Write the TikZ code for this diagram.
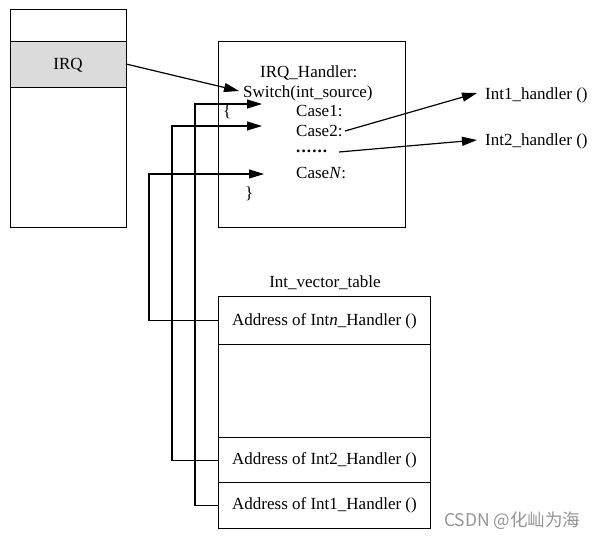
\documentclass[tikz,border=0pt]{standalone}
\usepackage{fontspec}
\setmainfont{Liberation Serif}
\newfontfamily\cjk{Noto Sans CJK SC}
\usetikzlibrary{arrows.meta,positioning}

\tikzstyle{box} = [draw, line width=1.2pt, inner sep=0pt, anchor=north west]
\tikzstyle{code} = [inner sep=0pt, anchor=base west, font=\fontsize{17}{20}\selectfont]
\tikzstyle{label} = [inner sep=0pt, anchor=base, font=\fontsize{17}{20}\selectfont]
\tikzstyle{wire} = [draw, line width=1.2pt, -]
\tikzstyle{pointer} = [draw, line width=1.2pt, -{Triangle[length=15pt,width=9pt]}]

\def\dotrow{\textbf{.\kern1.1pt.\kern1.1pt.\kern1.1pt.\kern1.1pt.\kern1.1pt.}}
\def\caseLines{{(260,77.7)/hname/IRQ\_Handler:}, {(243,98)/switch/Switch(int\_source)}, {(223,117)/lbrace/\{}, {(296,117)/case1/Case1:}, {(296,136.7)/case2/Case2:}, {(296,153)/dots/\dotrow}, {(296,179)/caseN/Case\textit{N}:}, {(245,199)/rbrace/\}}}
\def\targets{{(485,100)/int1/Int1\_handler ()}, {(485,146)/int2/Int2\_handler ()}}
\def\entries{vec1/23/{(262,104)}, vec2/46/{(262,126)}, vecn/69/{(264,174)}}

\begin{document}
\begin{tikzpicture}[x=1pt,y=-1pt]
  \useasboundingbox (0,0) rectangle (596,537);

  % stack
  \node[box, minimum width=116pt, minimum height=32pt] (stacktop) at (10,9) {};
  \node[box, minimum width=116pt, minimum height=46pt, fill=black!14] (irq) at (10,41) {};
  \node[box, minimum width=116pt, minimum height=140pt] (stackbot) at (10,87) {};
  \node[label] at (68,70) {IRQ};

  % handler
  \node[box, minimum width=187pt, minimum height=186pt] (handler) at (218,41) {};
  \foreach \pos/\name/\txt in \caseLines {
    \node[code] (\name) at \pos {\txt};
    }

  \foreach \pos/\name/\txt in \targets {
    \node[code] (\name) at \pos {\txt};
    }

  % vector table
  \node[label] (vtitle) at (325,287) {Int\_vector\_table};
  \node[box, minimum width=212pt, minimum height=48pt] (vecn) at (218,296) {};
  \node[box, minimum width=212pt, minimum height=93pt] (vecgap) at (218,344) {};
  \node[box, minimum width=212pt, minimum height=45pt] (vec2) at (218,437) {};
  \node[box, minimum width=212pt, minimum height=46pt] (vec1) at (218,482) {};
  \node[code] at (232,325) {Address of Int\textit{n}\_Handler ()};
  \node[code] at (232,464) {Address of Int2\_Handler ()};
  \node[code] at (232,509) {Address of Int1\_Handler ()};

  \coordinate (irqout) at (126,64);
  \coordinate (irqin) at (239,91);
  \coordinate (c2out) at (345,131);
  \coordinate (dout) at (339,152);
  \coordinate (t1in) at (477,93);
  \coordinate (t2in) at (477,140);

  \path[pointer] (irqout) -- (irqin);
  \path[pointer] (c2out) -- (t1in);
  \path[pointer] (dout) -- (t2in);

  \foreach \row/\off/\tip in \entries {
    \path[pointer] (\row.west) -- ++(-\off,0) |- \tip;
    }

  \node[inner sep=0pt, anchor=base west, text=black!42, font=\cjk\fontsize{17.5}{20}\selectfont] (mark) at (444,526) {CSDN @化屾为海};

\end{tikzpicture}
\end{document}
